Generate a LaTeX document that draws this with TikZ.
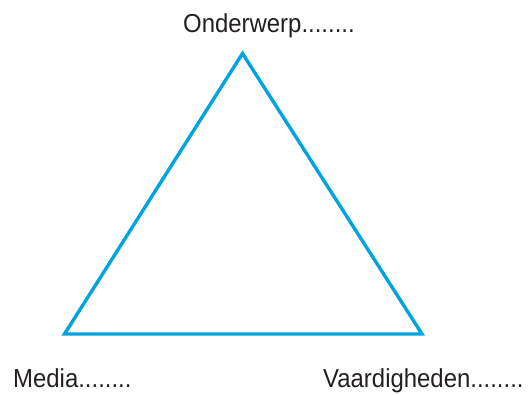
\documentclass[tikz,border=0pt]{standalone}
\usepackage{fontspec}
\setmainfont{Liberation Sans}
\definecolor{tri}{RGB}{0,165,223}
\definecolor{txt}{RGB}{35,31,32}
\newcommand{\narrow}[1]{\scalebox{0.92}[1]{#1}}
\begin{document}
\begin{tikzpicture}[x=1pt,y=-1pt,
  lbl/.style={anchor=base west,inner sep=0pt,text=txt,font=\fontsize{26}{30}\selectfont},
  edge/.style={draw=tri,line width=3.4pt,line join=miter}]
\useasboundingbox (0,0) rectangle (528,394);
\coordinate (T) at (242.5,53.5);
\coordinate (L) at (64.5,334);
\coordinate (R) at (422,334);
\draw[edge] (T) -- (L) -- (R) -- cycle;
\node[lbl] (top) at (183,32) {\narrow{Onderwerp........}};
\node[lbl] (media) at (13,387) {\narrow{Media........}};
\node[lbl] (vaard) at (323,387) {\narrow{Vaardigheden........}};
\end{tikzpicture}
\end{document}
